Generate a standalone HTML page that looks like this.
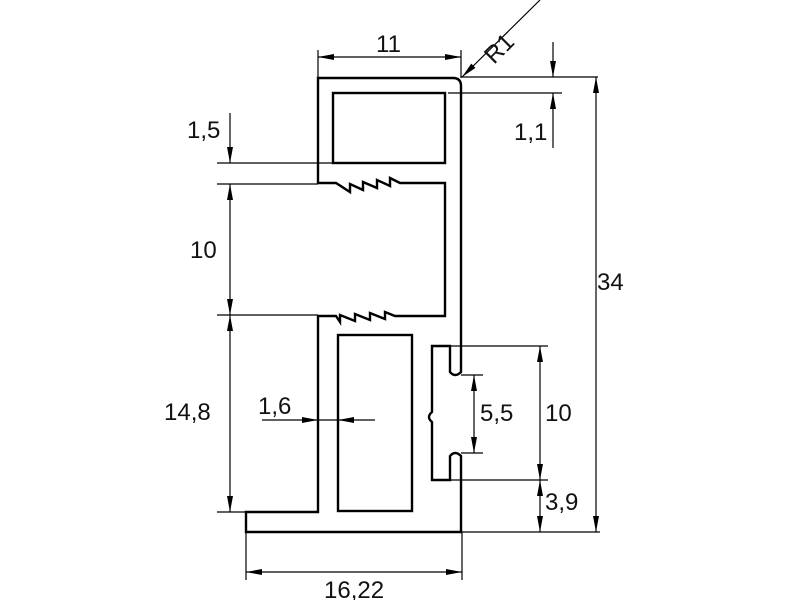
<!DOCTYPE html>
<html><head><style>body{margin:0;background:#fff}svg{display:block}text{font-family:"Liberation Sans",sans-serif;font-size:24px;fill:#111}</style></head><body>
<svg width="800" height="600" viewBox="0 0 800 600" xmlns="http://www.w3.org/2000/svg">
<defs><marker id="a" viewBox="0 0 16 6" refX="16" refY="3" markerWidth="16" markerHeight="6" markerUnits="userSpaceOnUse" orient="auto-start-reverse"><path d="M0,0L16,3L0,6z" fill="#000"/></marker></defs>
<g fill="none" stroke="#000" stroke-width="2.4" stroke-linejoin="miter">
<path d="M318,183 V78 H453 Q461,78 461,86 V372 Q455,378 450,372 V346 H432 V412 Q426,417 432,422 V480 H450 V456 Q455,450 461,456 V532 H246 V512 H318 V316 H336 L340,322 L340,315 L355,321 L355,314 L370,320 L370,313 L385,319 L385,312 L395,316 H445 V183 H400 L390,178 L390,186 L377,180 L377,188 L363,182 L363,190 L350,184 L350,192 L336,183 Z"/>
<rect x="333" y="93" width="112" height="70"/>
<rect x="338" y="335" width="74" height="176"/>
</g>
<g fill="none" stroke="#000" stroke-width="1.2">
<path d="M318,78V50M461,78V50M461,77H598M448,93H562M217,163H333M217,184H318M217,315H318M217,512H246M450,346H548M450,480H548M461,375H483M461,453H483M461,532H600M246,532V580M462,532V580"/>
<line x1="318" y1="57" x2="461" y2="57" marker-start="url(#a)" marker-end="url(#a)"/>
<line x1="540" y1="0" x2="462" y2="77" marker-end="url(#a)"/>
<line x1="553" y1="42" x2="553" y2="77" marker-end="url(#a)"/>
<line x1="553" y1="148" x2="553" y2="93" marker-end="url(#a)"/>
<line x1="596" y1="77" x2="596" y2="532" marker-start="url(#a)" marker-end="url(#a)"/>
<line x1="230" y1="113" x2="230" y2="163" marker-end="url(#a)"/>
<line x1="230" y1="184" x2="230" y2="315" marker-start="url(#a)" marker-end="url(#a)"/>
<line x1="230" y1="315" x2="230" y2="512" marker-start="url(#a)" marker-end="url(#a)"/>
<line x1="540" y1="346" x2="540" y2="480" marker-start="url(#a)" marker-end="url(#a)"/>
<line x1="540" y1="480" x2="540" y2="532" marker-start="url(#a)" marker-end="url(#a)"/>
<line x1="474" y1="375" x2="474" y2="453" marker-start="url(#a)" marker-end="url(#a)"/>
<line x1="246" y1="572" x2="462" y2="572" marker-start="url(#a)" marker-end="url(#a)"/>
<line x1="262" y1="420" x2="318" y2="420" marker-end="url(#a)"/>
<line x1="375" y1="420" x2="338" y2="420" marker-end="url(#a)"/>
<line x1="318" y1="420" x2="338" y2="420"/>
</g>
<text x="376" y="52">11</text>
<text transform="translate(494,65) rotate(-45)">R1</text>
<text x="514" y="140">1,1</text>
<text x="597" y="290">34</text>
<text x="187" y="138">1,5</text>
<text x="190" y="258">10</text>
<text x="164" y="420">14,8</text>
<text x="258" y="414">1,6</text>
<text x="480" y="421">5,5</text>
<text x="545" y="421">10</text>
<text x="545" y="510">3,9</text>
<text x="324" y="598">16,22</text>
</svg>
</body></html>
